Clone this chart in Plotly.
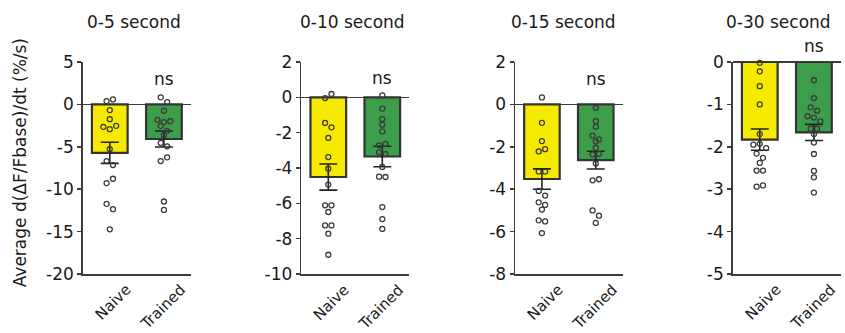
import plotly.graph_objects as go

# ---------------- data ----------------
groups = ["Naive", "Trained"]
titles = ["0-5 second", "0-10 second", "0-15 second", "0-30 second"]
sig_labels = ["ns", "ns", "ns", "ns"]
y_title = "Average d(\u0394F/Fbase)/dt (%/s)"

naive_5s = [0.39, 0.59, -0.67, -1.74, -2.65, -2.92, -2.53, -5.29, -6.68, -7.15, -9.28, -8.77, -11.73, -12.36, -14.73]
trained_5s = [0.83, 0.27, -0.75, -1.82, -2.09, -1.98, -2.53, -3.12, -3.63, -4.54, -4.94, -6.68, -6.24, -11.45, -12.44]
naive_10s = [-0.04, 0.19, -1.45, -1.70, -2.30, -3.38, -4.04, -4.94, -6.11, -6.11, -6.49, -7.25, -7.25, -7.72, -8.91]
trained_10s = [0.11, -0.64, -1.23, -1.55, -1.93, -2.72, -2.64, -3.11, -3.21, -3.94, -4.49, -4.51, -6.21, -6.89, -7.45]
naive_15s = [0.33, -0.87, -1.73, -2.22, -2.11, -3.17, -3.17, -4.08, -4.30, -4.62, -4.74, -4.96, -5.47, -5.52, -6.07]
trained_15s = [-0.16, -0.79, -1.05, -1.47, -1.65, -1.75, -2.05, -2.36, -2.33, -2.79, -3.58, -3.53, -5.00, -5.25, -5.59]
naive_30s = [-0.02, -0.22, -0.57, -1.00, -1.70, -1.95, -1.93, -2.03, -2.16, -2.26, -2.38, -2.56, -2.56, -2.94, -2.91]
trained_30s = [-0.43, -0.85, -1.07, -1.15, -1.28, -1.31, -1.40, -1.57, -1.57, -1.70, -1.90, -2.17, -2.57, -2.72, -3.08]

mean_naive = [-5.71, -4.51, -3.52, -1.83]
sem_naive = [1.24, 0.74, 0.48, 0.25]
mean_trained = [-4.08, -3.35, -2.63, -1.66]
sem_trained = [0.94, 0.58, 0.42, 0.19]

y_ranges = [(-20, 5), (-10, 2), (-8, 2), (-5, 0)]
y_dticks = [5, 2, 2, 1]

naive_points = [naive_5s, naive_10s, naive_15s, naive_30s]
trained_points = [trained_5s, trained_10s, trained_15s, trained_30s]

# ---------------- style / layout ----------------
W, H = 845, 333
FONT = "DejaVu Sans"
AX = "#3c3c3c"
TXT = "#1a1a1a"
YELLOW = "#F6EB00"
GREEN = "#3C9E4B"
x_dom_px = [(82.7, 191.0), (301.3, 409.3), (515.0, 622.7), (732.7, 841.0)]
y_dom_px = (62.0, 274.0)
title_x_px = [134.3, 352.2, 563.7, 778.5]
ns_y_px = [78.7, 78.0, 78.7, 46.0]


def swarm(vals, px_per_unit, px_per_cat, spacing_px=6.4, thr_px=5.5):
    n = len(vals)
    order = sorted(range(n), key=lambda i: -vals[i])
    rows = []
    for i in order:
        if rows and abs(vals[rows[-1][0]] - vals[i]) * px_per_unit < thr_px:
            rows[-1].append(i)
        else:
            rows.append([i])
    offs = [0.0] * n
    for row in rows:
        row = sorted(row)
        k = len(row)
        for j, i in enumerate(row):
            offs[i] = (j - (k - 1) / 2) * spacing_px / px_per_cat
    return offs


def fmt(v):
    return str(int(v)) if float(v).is_integer() else str(v)


fig = go.Figure()
annotations = []
layout_axes = {}

for k in range(4):
    sfx = "" if k == 0 else str(k + 1)
    xa, ya = "x" + sfx, "y" + sfx
    ymin, ymax = y_ranges[k]
    x0, x1 = x_dom_px[k]
    px_per_unit = (y_dom_px[1] - y_dom_px[0]) / (ymax - ymin)
    px_per_cat = (x1 - x0) / 2.0

    fig.add_trace(go.Bar(
        x=[0, 1], y=[mean_naive[k], mean_trained[k]],
        width=0.66,
        marker=dict(color=[YELLOW, GREEN], line=dict(color="#333333", width=2.2)),
        error_y=dict(type="data", array=[sem_naive[k], sem_trained[k]], visible=True,
                     color="#222222", thickness=1.6, width=9),
        xaxis=xa, yaxis=ya, showlegend=False, hoverinfo="skip",
    ))
    for g, pts in enumerate([naive_points[k], trained_points[k]]):
        offs = swarm(pts, px_per_unit, px_per_cat)
        fig.add_trace(go.Scatter(
            x=[g + o for o in offs], y=pts, mode="markers",
            marker=dict(symbol="circle-open", size=5, color="#3a3a3a", line=dict(width=1.3)),
            xaxis=xa, yaxis=ya, showlegend=False, hoverinfo="skip", cliponaxis=False,
        ))

    tvals = list(range(ymin, ymax + 1, y_dticks[k]))
    layout_axes["xaxis" + sfx] = dict(
        domain=[x0 / W, x1 / W], range=[-0.5, 1.5], anchor=ya, automargin=False,
        showline=True, linecolor=AX, linewidth=1.5, showgrid=False, zeroline=False,
        showticklabels=False, ticks="", fixedrange=True,
    )
    layout_axes["yaxis" + sfx] = dict(
        domain=[1 - y_dom_px[1] / H, 1 - y_dom_px[0] / H], range=[ymin, ymax], anchor=xa,
        automargin=False, fixedrange=True,
        showline=True, linecolor=AX, linewidth=1.5, showgrid=False,
        zeroline=True, zerolinecolor=AX, zerolinewidth=1.5,
        ticks="outside", ticklen=4, tickwidth=1.5, tickcolor=AX,
        tickmode="array", tickvals=tvals, ticktext=[fmt(v) for v in tvals],
        tickfont=dict(family=FONT, size=17, color=TXT),
    )

    annotations.append(dict(
        text=titles[k], xref="paper", yref="paper", x=title_x_px[k] / W, y=1 - 21.7 / H,
        xanchor="center", yanchor="middle", showarrow=False,
        font=dict(family=FONT, size=17, color=TXT),
    ))
    annotations.append(dict(
        text=sig_labels[k], xref=xa, yref="paper", x=1, y=1 - ns_y_px[k] / H,
        xanchor="center", yanchor="middle", showarrow=False,
        font=dict(family=FONT, size=17, color=TXT),
    ))
    for g, name in enumerate(groups):
        annotations.append(dict(
            text=name, xref=xa, yref="paper", x=g, xshift=28, y=1 - 278 / H,
            xanchor="right", yanchor="top", textangle=-45, showarrow=False,
            font=dict(family=FONT, size=15, color=TXT),
        ))

annotations.append(dict(
    text=y_title, xref="paper", yref="paper", x=20 / W, y=1 - 163.3 / H,
    xanchor="center", yanchor="middle", textangle=-90, showarrow=False,
    font=dict(family=FONT, size=17, color=TXT),
))

fig.update_layout(
    template="none",
    width=W, height=H, margin=dict(l=0, r=0, t=0, b=0, pad=0, autoexpand=False),
    paper_bgcolor="white", plot_bgcolor="white",
    annotations=annotations, bargap=0, **layout_axes,
)

fig.write_html(
    "out.html",
    config={"displayModeBar": False, "staticPlot": True},
    post_script="document.body.style.margin='0';document.body.style.overflow='hidden';",
)
